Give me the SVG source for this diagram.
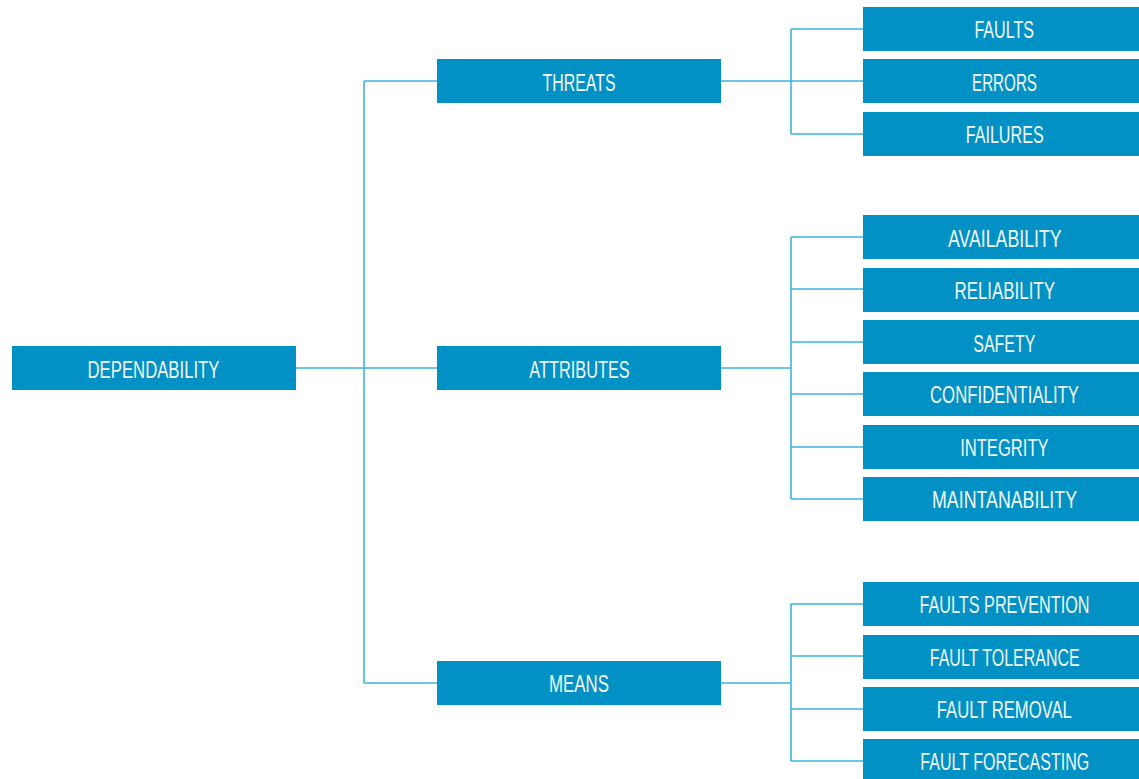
<svg xmlns="http://www.w3.org/2000/svg" width="1139" height="779" viewBox="0 0 1139 779">
<style>
.box{fill:#0191c4}
.lbl{font-family:"Liberation Sans Narrow","Liberation Sans",Arial,sans-serif;font-size:23px;fill:#f2f8fb;text-anchor:middle}
.ln{fill:none;stroke:#3cb5de;stroke-width:1.6}
</style>
<rect width="1139" height="779" fill="#ffffff"/>
<g id="connectors">
<path class="ln" d="M296 368H437M364 81V683M364 81H437M364 683H437"/>
<path class="ln" d="M721 81H863M791 29V134M791 29H863M791 134H863"/>
<path class="ln" d="M721 368H791M791 237V499M791 237H863M791 289H863M791 342H863M791 394H863M791 447H863M791 499H863"/>
<path class="ln" d="M721 683H791M791 604V761M791 604H863M791 656H863M791 709H863M791 761H863"/>
</g>
<g id="dependability"><rect class="box" x="12" y="346" width="284" height="44"/><text class="lbl" x="153.5" y="377.5" textLength="132" lengthAdjust="spacingAndGlyphs">DEPENDABILITY</text></g>
<g id="threats"><rect class="box" x="437" y="59" width="284" height="44"/><text class="lbl" x="579" y="90.5" textLength="73" lengthAdjust="spacingAndGlyphs">THREATS</text></g>
<g id="attributes"><rect class="box" x="437" y="346" width="284" height="44"/><text class="lbl" x="579.5" y="377.5" textLength="100.5" lengthAdjust="spacingAndGlyphs">ATTRIBUTES</text></g>
<g id="means"><rect class="box" x="437" y="661" width="284" height="44"/><text class="lbl" x="579" y="692" textLength="60" lengthAdjust="spacingAndGlyphs">MEANS</text></g>
<g id="faults"><rect class="box" x="863" y="7" width="276" height="44"/><text class="lbl" x="1004.2" y="38" textLength="59.5" lengthAdjust="spacingAndGlyphs">FAULTS</text></g>
<g id="errors"><rect class="box" x="863" y="59" width="276" height="44"/><text class="lbl" x="1004.5" y="90.5" textLength="65" lengthAdjust="spacingAndGlyphs">ERRORS</text></g>
<g id="failures"><rect class="box" x="863" y="112" width="276" height="44"/><text class="lbl" x="1004.7" y="143" textLength="78" lengthAdjust="spacingAndGlyphs">FAILURES</text></g>
<g id="availability"><rect class="box" x="863" y="215" width="276" height="44"/><text class="lbl" x="1004.8" y="246.5" textLength="113.5" lengthAdjust="spacingAndGlyphs">AVAILABILITY</text></g>
<g id="reliability"><rect class="box" x="863" y="268" width="276" height="44"/><text class="lbl" x="1004.7" y="299" textLength="100.5" lengthAdjust="spacingAndGlyphs">RELIABILITY</text></g>
<g id="safety"><rect class="box" x="863" y="320" width="276" height="44"/><text class="lbl" x="1004.3" y="351.5" textLength="62" lengthAdjust="spacingAndGlyphs">SAFETY</text></g>
<g id="confidentiality"><rect class="box" x="863" y="372" width="276" height="44"/><text class="lbl" x="1004.5" y="403" textLength="149" lengthAdjust="spacingAndGlyphs">CONFIDENTIALITY</text></g>
<g id="integrity"><rect class="box" x="863" y="425" width="276" height="44"/><text class="lbl" x="1004.4" y="456" textLength="88.5" lengthAdjust="spacingAndGlyphs">INTEGRITY</text></g>
<g id="maintanability"><rect class="box" x="863" y="477" width="276" height="44"/><text class="lbl" x="1004.5" y="508" textLength="145" lengthAdjust="spacingAndGlyphs">MAINTANABILITY</text></g>
<g id="faults-prevention"><rect class="box" x="863" y="582" width="276" height="44"/><text class="lbl" x="1004.5" y="613" textLength="170" lengthAdjust="spacingAndGlyphs">FAULTS PREVENTION</text></g>
<g id="fault-tolerance"><rect class="box" x="863" y="635" width="276" height="44"/><text class="lbl" x="1004.8" y="666" textLength="150" lengthAdjust="spacingAndGlyphs">FAULT TOLERANCE</text></g>
<g id="fault-removal"><rect class="box" x="863" y="687" width="276" height="44"/><text class="lbl" x="1004.3" y="718" textLength="135" lengthAdjust="spacingAndGlyphs">FAULT REMOVAL</text></g>
<g id="fault-forecasting"><rect class="box" x="863" y="739" width="276" height="44"/><text class="lbl" x="1004.8" y="770" textLength="169" lengthAdjust="spacingAndGlyphs">FAULT FORECASTING</text></g>
</svg>
